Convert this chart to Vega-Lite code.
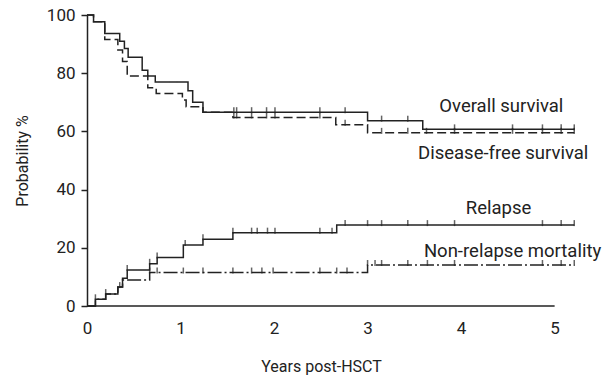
{
  "$schema": "https://vega.github.io/schema/vega-lite/v6.json",
  "width": 491,
  "height": 291,
  "autosize": {"type": "none"},
  "padding": {"left": 87, "top": 15, "right": 36, "bottom": 78},
  "background": "white",
  "config": {
    "view": {"stroke": null},
    "font": "Roboto, sans-serif",
    "axis": {"labelFont": "Roboto, sans-serif", "titleFont": "Roboto, sans-serif", "labelColor": "#222", "titleColor": "#222", "grid": false}
  },
  "datasets": {
    "curves": [
      {"series": "OS", "t": 0, "p": 100},
      {"series": "OS", "t": 0.07, "p": 97.7},
      {"series": "OS", "t": 0.19, "p": 93.6},
      {"series": "OS", "t": 0.35, "p": 91},
      {"series": "OS", "t": 0.4, "p": 88.5},
      {"series": "OS", "t": 0.44, "p": 85.5},
      {"series": "OS", "t": 0.59, "p": 81},
      {"series": "OS", "t": 0.65, "p": 79},
      {"series": "OS", "t": 0.73, "p": 77},
      {"series": "OS", "t": 1.08, "p": 74},
      {"series": "OS", "t": 1.13, "p": 70},
      {"series": "OS", "t": 1.24, "p": 66.6},
      {"series": "OS", "t": 3.0, "p": 63.7},
      {"series": "OS", "t": 3.59, "p": 60.7},
      {"series": "OS", "t": 5.21, "p": 60.7},
      {"series": "DFS", "t": 0, "p": 100},
      {"series": "DFS", "t": 0.07, "p": 97.7},
      {"series": "DFS", "t": 0.19, "p": 91.6},
      {"series": "DFS", "t": 0.33, "p": 88},
      {"series": "DFS", "t": 0.38, "p": 84},
      {"series": "DFS", "t": 0.43, "p": 79},
      {"series": "DFS", "t": 0.65, "p": 75},
      {"series": "DFS", "t": 0.74, "p": 73},
      {"series": "DFS", "t": 1.02, "p": 70.8},
      {"series": "DFS", "t": 1.06, "p": 68.5},
      {"series": "DFS", "t": 1.24, "p": 66.6},
      {"series": "DFS", "t": 1.56, "p": 64.8},
      {"series": "DFS", "t": 2.66, "p": 62.3},
      {"series": "DFS", "t": 3.0, "p": 59.5},
      {"series": "DFS", "t": 5.21, "p": 59.5},
      {"series": "REL", "t": 0, "p": 0},
      {"series": "REL", "t": 0.09, "p": 2.3},
      {"series": "REL", "t": 0.2, "p": 4.1},
      {"series": "REL", "t": 0.33, "p": 6.5},
      {"series": "REL", "t": 0.38, "p": 9.5},
      {"series": "REL", "t": 0.43, "p": 12.4},
      {"series": "REL", "t": 0.67, "p": 14.5},
      {"series": "REL", "t": 0.75, "p": 16.7},
      {"series": "REL", "t": 1.03, "p": 21},
      {"series": "REL", "t": 1.24, "p": 22.9},
      {"series": "REL", "t": 1.56, "p": 25.2},
      {"series": "REL", "t": 2.67, "p": 27.8},
      {"series": "REL", "t": 5.21, "p": 27.8},
      {"series": "NRM", "t": 0, "p": 0},
      {"series": "NRM", "t": 0.09, "p": 2.3},
      {"series": "NRM", "t": 0.2, "p": 4.1},
      {"series": "NRM", "t": 0.33, "p": 6.5},
      {"series": "NRM", "t": 0.38, "p": 8.9},
      {"series": "NRM", "t": 0.67, "p": 11.5},
      {"series": "NRM", "t": 3.0, "p": 14.1},
      {"series": "NRM", "t": 5.21, "p": 14.1}
    ],
    "censor": [
      {"series": "OS", "t": 1.57, "p": 66.6}, {"series": "OS", "t": 1.6, "p": 66.6}, {"series": "OS", "t": 1.76, "p": 66.6},
      {"series": "OS", "t": 1.92, "p": 66.6}, {"series": "OS", "t": 2.01, "p": 66.6}, {"series": "OS", "t": 2.49, "p": 66.6},
      {"series": "OS", "t": 2.76, "p": 66.6}, {"series": "OS", "t": 3.15, "p": 63.7}, {"series": "OS", "t": 3.43, "p": 63.7},
      {"series": "OS", "t": 3.93, "p": 60.7}, {"series": "OS", "t": 4.55, "p": 60.7}, {"series": "OS", "t": 4.87, "p": 60.7},
      {"series": "OS", "t": 5.07, "p": 60.7}, {"series": "OS", "t": 5.21, "p": 60.7},
      {"series": "DFS", "t": 1.57, "p": 64.8}, {"series": "DFS", "t": 1.6, "p": 64.8}, {"series": "DFS", "t": 1.76, "p": 64.8},
      {"series": "DFS", "t": 1.92, "p": 64.8}, {"series": "DFS", "t": 2.01, "p": 64.8}, {"series": "DFS", "t": 2.49, "p": 64.8},
      {"series": "DFS", "t": 2.76, "p": 62.3}, {"series": "DFS", "t": 3.15, "p": 59.5}, {"series": "DFS", "t": 3.43, "p": 59.5},
      {"series": "DFS", "t": 3.63, "p": 59.5}, {"series": "DFS", "t": 3.93, "p": 59.5}, {"series": "DFS", "t": 4.55, "p": 59.5},
      {"series": "DFS", "t": 4.87, "p": 59.5}, {"series": "DFS", "t": 5.07, "p": 59.5}, {"series": "DFS", "t": 5.21, "p": 59.5},
      {"series": "REL", "t": 0.09, "p": 2.3}, {"series": "REL", "t": 0.2, "p": 4.1}, {"series": "REL", "t": 0.35, "p": 6.5},
      {"series": "REL", "t": 0.43, "p": 12.4}, {"series": "REL", "t": 0.67, "p": 14.5}, {"series": "REL", "t": 0.75, "p": 16.7},
      {"series": "REL", "t": 1.05, "p": 21}, {"series": "REL", "t": 1.24, "p": 22.9}, {"series": "REL", "t": 1.56, "p": 25.2},
      {"series": "REL", "t": 1.76, "p": 25.2}, {"series": "REL", "t": 1.82, "p": 25.2}, {"series": "REL", "t": 1.93, "p": 25.2},
      {"series": "REL", "t": 2.01, "p": 25.2}, {"series": "REL", "t": 2.49, "p": 25.2}, {"series": "REL", "t": 2.62, "p": 25.2},
      {"series": "REL", "t": 2.76, "p": 27.8}, {"series": "REL", "t": 3.0, "p": 27.8}, {"series": "REL", "t": 3.15, "p": 27.8},
      {"series": "REL", "t": 3.43, "p": 27.8}, {"series": "REL", "t": 3.64, "p": 27.8}, {"series": "REL", "t": 3.93, "p": 27.8},
      {"series": "REL", "t": 4.87, "p": 27.8}, {"series": "REL", "t": 5.07, "p": 27.8}, {"series": "REL", "t": 5.21, "p": 27.8},
      {"series": "NRM", "t": 0.67, "p": 11.5}, {"series": "NRM", "t": 0.75, "p": 11.5}, {"series": "NRM", "t": 1.03, "p": 11.5},
      {"series": "NRM", "t": 1.24, "p": 11.5}, {"series": "NRM", "t": 1.56, "p": 11.5}, {"series": "NRM", "t": 1.76, "p": 11.5},
      {"series": "NRM", "t": 1.87, "p": 11.5}, {"series": "NRM", "t": 1.99, "p": 11.5}, {"series": "NRM", "t": 2.49, "p": 11.5},
      {"series": "NRM", "t": 2.67, "p": 11.5}, {"series": "NRM", "t": 2.78, "p": 11.5}, {"series": "NRM", "t": 3.0, "p": 14.1},
      {"series": "NRM", "t": 3.08, "p": 14.1}, {"series": "NRM", "t": 3.15, "p": 14.1}, {"series": "NRM", "t": 3.43, "p": 14.1},
      {"series": "NRM", "t": 3.64, "p": 14.1}, {"series": "NRM", "t": 3.93, "p": 14.1}, {"series": "NRM", "t": 4.87, "p": 14.1},
      {"series": "NRM", "t": 5.07, "p": 14.1}, {"series": "NRM", "t": 5.21, "p": 14.1}
    ],
    "labels": [
      {"text": "Overall survival", "t": 4.43, "p": 68.7},
      {"text": "Disease-free survival", "t": 4.45, "p": 52.6},
      {"text": "Relapse", "t": 4.4, "p": 33.7},
      {"text": "Non-relapse mortality", "t": 4.55, "p": 18.9}
    ],
    "baseline": [{"t": 0, "t2": 5, "p": 0}]
  },
  "layer": [
    {
      "data": {"name": "baseline"},
      "mark": {"type": "rule", "color": "#222", "strokeWidth": 1.5},
      "encoding": {
        "x": {"field": "t", "type": "quantitative", "scale": {"domain": [0, 5.25], "nice": false}, "axis": {"values": [0, 1, 2, 3, 4, 5], "format": "d", "domain": false, "ticks": false, "labelPadding": 14, "labelFontSize": 17, "title": "Years post-HSCT", "titleFontSize": 16, "titleFontWeight": "normal", "titlePadding": 22, "titleX": 234, "labelFlush": false}},
        "x2": {"field": "t2"},
        "y": {"field": "p", "type": "quantitative", "scale": {"domain": [0, 100], "nice": false}, "axis": {"values": [0, 20, 40, 60, 80, 100], "domainColor": "#222", "domainWidth": 1.5, "tickColor": "#222", "tickWidth": 1.5, "tickSize": 6, "labelPadding": 6, "labelFontSize": 17, "title": "Probability %", "titleFontSize": 16, "titleFontWeight": "normal", "titlePadding": 16}}
      }
    },
    {
      "data": {"name": "curves"},
      "mark": {"type": "line", "interpolate": "step-after", "color": "#222", "strokeWidth": 1.5},
      "encoding": {
        "x": {"field": "t", "type": "quantitative"},
        "y": {"field": "p", "type": "quantitative"},
        "detail": {"field": "series"},
        "strokeDash": {"field": "series", "type": "nominal", "scale": {"domain": ["OS", "DFS", "REL", "NRM"], "range": [[1, 0], [9, 4], [1, 0], [14, 3, 2, 3]]}, "legend": null}
      }
    },
    {
      "data": {"name": "censor"},
      "mark": {"type": "tick", "orient": "vertical", "color": "#222", "thickness": 1.5, "size": 6, "yOffset": -2},
      "encoding": {
        "x": {"field": "t", "type": "quantitative"},
        "y": {"field": "p", "type": "quantitative"}
      }
    },
    {
      "data": {"name": "labels"},
      "mark": {"type": "text", "color": "#222", "fontSize": 18.5, "align": "center", "baseline": "middle"},
      "encoding": {
        "x": {"field": "t", "type": "quantitative"},
        "y": {"field": "p", "type": "quantitative"},
        "text": {"field": "text"}
      }
    }
  ]
}
